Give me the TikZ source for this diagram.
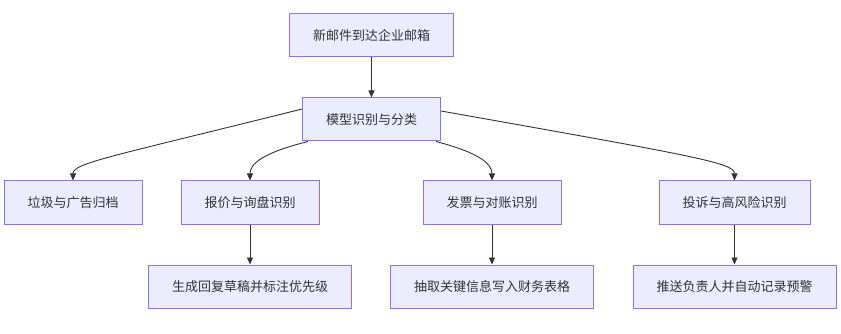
\documentclass[tikz,border=0pt]{standalone}
\usepackage{fontspec}
\setmainfont{Noto Sans CJK SC}
\usetikzlibrary{arrows.meta,positioning}
\definecolor{boxfill}{HTML}{ECECFF}
\definecolor{boxline}{HTML}{9370DB}
\definecolor{ink}{HTML}{333333}

\begin{document}
\begin{tikzpicture}[
  x=1pt,y=-1pt,
  node distance=40pt and 5mm,
  stage/.style={draw=boxline,fill=boxfill,line width=1pt,align=center,minimum height=43pt,inner xsep=23.5pt,inner ysep=3pt,text=ink,font=\fontsize{13pt}{15pt}\selectfont},
  flow/.style={-{Triangle[length=7pt,width=6pt]},draw=ink,line width=0.9pt}
]
\useasboundingbox (0,0) rectangle (841,334);
% top of the tree
\node[stage] (mail) at (371.5,35.5) {新邮件到达企业邮箱};
\node[stage,below=of mail] (cls) {模型识别与分类};
% categories
\node[stage] (spam) at (73,202.5) {垃圾与广告归档};
\node[stage] (quote) at (250,202.5) {报价与询盘识别};
\node[stage] (bill) at (492,202.5) {发票与对账识别};
\node[stage] (risk) at (734.5,202.5) {投诉与高风险识别};
% actions
\node[stage,below=of quote] (reply) {生成回复草稿并标注优先级};
\node[stage,below=of bill] (sheet) {抽取关键信息写入财务表格};
\node[stage,below=of risk] (alert) {推送负责人并自动记录预警};

\draw[flow] (mail) -- (cls);
\draw[flow] ([yshift=10.5pt]cls.west) .. controls (110,157) and (73,163) .. (spam.north);
\draw[flow] ([xshift=6pt]cls.south west) .. controls (262,153) and (250,164) .. (quote.north);
\draw[flow] ([xshift=-5pt]cls.south east) .. controls (480,153) and (492,164) .. (bill.north);
\draw[flow] ([yshift=8.5pt]cls.east) .. controls (700,157) and (734.5,163) .. (risk.north);
\draw[flow] (quote) -- (reply);
\draw[flow] (bill) -- (sheet);
\draw[flow] (risk) -- (alert);
\end{tikzpicture}
\end{document}
